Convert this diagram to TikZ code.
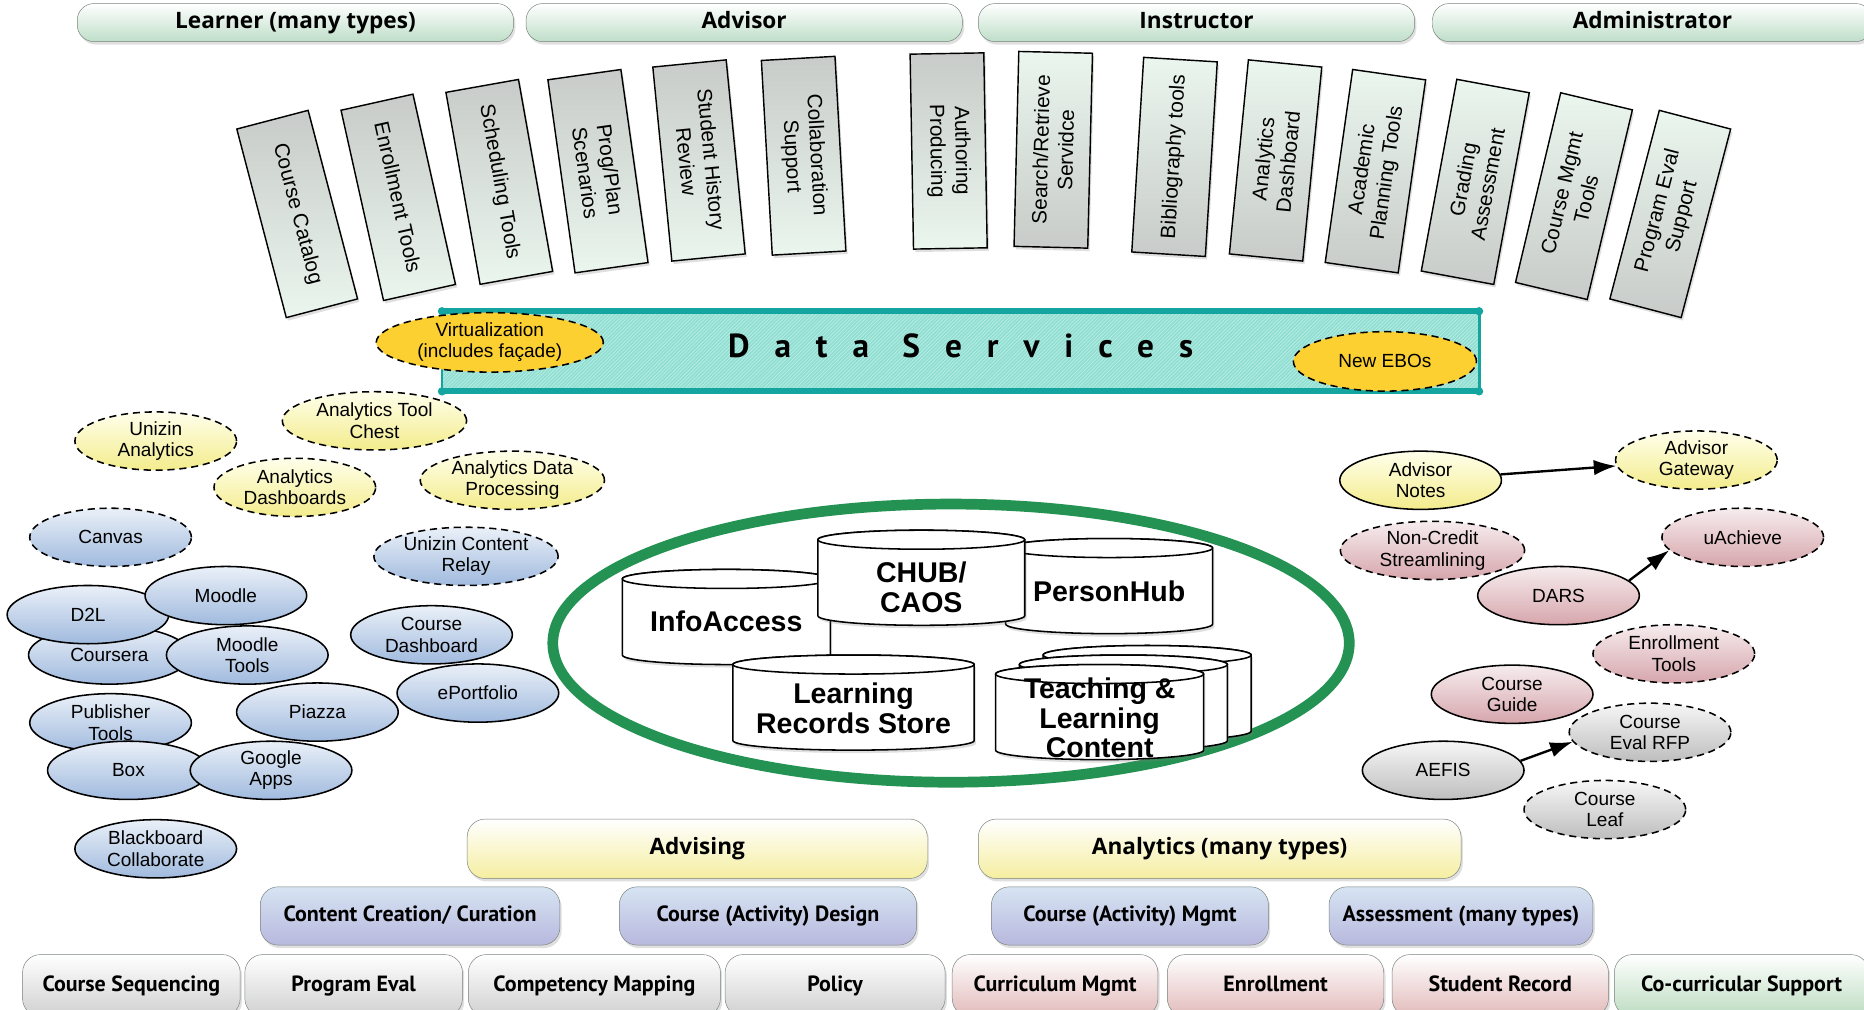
\documentclass[tikz,border=0pt]{standalone}
\usepackage{fontspec}
\setmainfont{Liberation Sans}
\newfontfamily\barfont{Open Sans}
\newfontfamily\rowfont{PT Sans}
\newfontfamily\dsfont[LetterSpace=75]{PT Sans}
\usetikzlibrary{
    shapes.geometric,
    arrows.meta,
    shadows,
    patterns
}
\definecolor{rolegreen}{RGB}{190,222,200}
\definecolor{barline}{RGB}{120,130,125}
\definecolor{toolgreen}{RGB}{234,246,238}
\definecolor{toolgray}{RGB}{200,203,201}
\definecolor{dsline}{RGB}{20,165,160}
\definecolor{dsfill}{RGB}{145,222,210}
\definecolor{dsstripe}{RGB}{195,240,232}
\definecolor{gold}{RGB}{252,208,48}
\definecolor{ylwtop}{RGB}{255,255,235}
\definecolor{ylwbot}{RGB}{243,236,140}
\definecolor{blutop}{RGB}{234,240,248}
\definecolor{blubot}{RGB}{160,186,222}
\definecolor{pnktop}{RGB}{246,236,238}
\definecolor{pnkbot}{RGB}{214,166,172}
\definecolor{grytop}{RGB}{246,246,246}
\definecolor{grybot}{RGB}{190,190,190}
\definecolor{coregreen}{RGB}{36,146,82}
\definecolor{lavtop}{RGB}{214,228,242}
\definecolor{lavbot}{RGB}{184,184,222}
\definecolor{rowgray}{RGB}{208,208,208}
\definecolor{rowpink}{RGB}{226,186,186}
\definecolor{rowgreen}{RGB}{188,220,192}
\definecolor{rowyellow}{RGB}{245,238,160}
\tikzset {
    soft shadow/.style = {
        drop shadow = {shadow xshift = 1.5pt, shadow yshift = -2.5pt, opacity = 0.25}
    },
    role bar/.style = {
        draw = barline, rounded corners = 14pt,
        top color = white, bottom color = rolegreen,
        minimum width = 367pt, minimum height = 32pt, inner sep = 0pt,
        text height = 14pt, text depth = 4pt,
        font = \barfont\bfseries\fontsize{19}{20}\selectfont,
        soft shadow
    },
    tool box/.style = {
        draw, line width = 1.2pt, align = center,
        minimum width = 164pt, minimum height = 62pt, inner sep = 0pt,
        font = \fontsize{17.5}{21}\selectfont,
        soft shadow
    },
    tool left/.style = {tool box, top color = toolgray, bottom color = toolgreen},
    tool right/.style = {tool box, top color = toolgreen, bottom color = toolgray},
    %
    data bar/.style = {
        minimum width = 872pt, minimum height = 67pt, inner sep = 0pt,
        text depth = 9pt,
        preaction = {fill = dsfill},
        pattern = north east lines, pattern color = dsstripe,
        font = \dsfont\bfseries\fontsize{28}{30}\selectfont
    },
    ds edge/.style = {draw = dsline},
    %
    oval/.style = {
        ellipse, draw, line width = 1.3pt, align = center,
        minimum width = 136pt, minimum height = 49pt, inner sep = -1pt,
        font = \fontsize{16}{18}\selectfont
    },
    wide oval/.style = {oval, minimum width = 155pt},
    planned/.style = {dash pattern = on 6pt off 4pt},
    gold oval/.style = {oval, planned, fill = gold, minimum height = 50pt},
    yellow oval/.style = {oval, top color = ylwtop, bottom color = ylwbot},
    blue oval/.style = {oval, top color = blutop, bottom color = blubot},
    pink oval/.style = {oval, top color = pnktop, bottom color = pnkbot},
    gray oval/.style = {oval, top color = grytop, bottom color = grybot},
    link/.style = {line width = 2pt, -{Latex[length = 19pt, width = 13pt]}},
    %
    core ring/.style = {
        ellipse, draw = coregreen, line width = 9pt,
        minimum width = 670pt, minimum height = 234pt
    },
    store line/.style = {draw, line width = 1.3pt, fill = white},
    store/.pic = {
        \filldraw [store line, soft shadow] (-#1, -32) -- (-#1, 32)
            arc [start angle = 180, end angle = 0, x radius = #1, y radius = 8]
            -- (#1, -32)
            arc [start angle = 0, end angle = -180, x radius = #1, y radius = 8]
            -- cycle;
        \draw [store line] (0, -32) ellipse [x radius = #1, y radius = 8];
    },
    store text/.style = {align = center, font = \bfseries\fontsize{24}{25}\selectfont},
    %
    layer box/.style = {
        draw = barline, rounded corners = 15pt, inner sep = 0pt,
        minimum height = 49pt, text height = 14pt, text depth = 4pt,
        font = \rowfont\bfseries\fontsize{18.5}{20}\selectfont,
        soft shadow
    },
    top layer/.style = {
        layer box, top color = white, bottom color = rowyellow, minimum height = 50pt,
        font = \barfont\bfseries\fontsize{19}{20}\selectfont
    },
    mid layer/.style = {layer box, top color = lavtop, bottom color = lavbot},
    base layer/.style = {layer box, top color = white, bottom color = #1, minimum height = 52pt}
}

\begin{document}
\begin{tikzpicture}[x = 1pt, y = -1pt]
    \fill [white] (0, 0) rectangle (1568, 849);
    \useasboundingbox (0, 0) rectangle (1568, 849);
    % roles
    \node (learner) [role bar] at (248.5, 19) {Learner (many types)};
    \node (advisor) [role bar] at (626, 19) {Advisor};
    \node (instructor) [role bar] at (1006.5, 19) {Instructor};
    \node (admin) [role bar, minimum width = 370pt] at (1390, 19) {Administrator};
    % tools
    \node (catalog) [tool left, rotate = -75.3] at (250, 180) {Course Catalog};
    \node (enroltools) [tool left, rotate = -77.4] at (335, 166) {Enrollment Tools};
    \node (sched) [tool left, rotate = -79.9] at (420, 153) {Scheduling Tools};
    \node (progplan) [tool left, rotate = -82] at (503, 144) {Prog/Plan\\Scenarios};
    \node (history) [tool left, rotate = -84.4] at (588, 135) {Student History\\Review};
    \node (collab) [tool left, rotate = -86.8] at (676, 131) {Collaboration\\Support};
    \node (authoring) [tool left, rotate = -89] at (798, 127) {Authoring\\Producing};
    \node (search) [tool right, rotate = 88.6] at (886, 126) {Search/Retrieve\\Servidce};
    \node (biblio) [tool right, rotate = 86.5] at (988, 132) {Bibliography tools};
    \node (andashtool) [tool right, rotate = 84.4] at (1073, 135) {Analytics\\Dashboard};
    \node (acplan) [tool right, rotate = 81.9] at (1157, 144) {Academic\\Planning Tools};
    \node (grading) [tool right, rotate = 79.5] at (1241, 153) {Grading\\Assessment};
    \node (crsmgmt) [tool right, rotate = 76.6] at (1324, 165) {Course Mgmt\\Tools};
    \node (progeval) [tool right, rotate = 75.3] at (1405, 180) {Program Eval\\Support};
    % data services
    \node (ds) [data bar] at (808, 295.5) {Data Services};
    \draw [ds edge, line width = 5pt] (ds.north west) -- (ds.north east);
    \draw [ds edge, line width = 5pt] (ds.south west) -- (ds.south east);
    \draw [ds edge, line width = 2.5pt] (ds.north west) -- (ds.south west);
    \draw [ds edge, line width = 2.5pt] (ds.north east) -- (ds.south east);
    \foreach \corner in {north west, north east, south west, south east}
        \fill [dsline] (ds.\corner) circle (3.5pt);
    \node (virt) [gold oval, minimum width = 191pt] at (412, 288) {Virtualization\\(includes façade)};
    \node (ebos) [gold oval, minimum width = 154pt] at (1165, 304) {New EBOs};
    % left cluster
    \node (unizinan) [yellow oval, planned] at (131, 371) {Unizin\\Analytics};
    \node (toolchest) [yellow oval, wide oval, planned] at (315, 354) {Analytics Tool\\Chest};
    \node (andash) [yellow oval, planned] at (248, 410) {Analytics\\Dashboards};
    \node (dataproc) [yellow oval, wide oval, planned] at (431, 404) {Analytics Data\\Processing};
    \node (canvas) [blue oval, planned] at (93, 452) {Canvas};
    \node (relay) [blue oval, wide oval, planned] at (392, 468) {Unizin Content\\Relay};
    \node (coursera) [blue oval] at (92, 551) {Coursera};
    \node (moodletools) [blue oval] at (208, 551) {Moodle\\Tools};
    \node (d2l) [blue oval] at (74, 517) {D2L};
    \node (moodle) [blue oval] at (190, 501) {Moodle};
    \node (crsdash) [blue oval] at (363, 534) {Course\\Dashboard};
    \node (eportfolio) [blue oval] at (402, 583) {ePortfolio};
    \node (piazza) [blue oval] at (267, 599) {Piazza};
    \node (publisher) [blue oval] at (93, 608) {Publisher\\Tools};
    \node (box) [blue oval] at (108, 648) {Box};
    \node (gapps) [blue oval] at (228, 648) {Google\\Apps};
    \node (bbcollab) [blue oval] at (131, 714) {Blackboard\\Collaborate};
    % core stores
    \node (core) [core ring] at (800, 541) {};
    \pic (infoaccess) at (611, 519) {store = 87.5};
    \pic (personhub) at (933, 493) {store = 87};
    \pic (chub) at (775, 486) {store = 87};
    \pic (lrs) at (718, 591) {store = 101.5};
    \pic (tlc3) at (965, 583) {store = 87.5};
    \pic (tlc2) at (945, 591) {store = 87.5};
    \pic (tlc) at (925, 599) {store = 87.5};
    \node (infoaccess text) [store text] at (611, 523) {InfoAccess};
    \node (personhub text) [store text] at (933, 497) {PersonHub};
    \node (chub text) [store text] at (775, 494) {CHUB/\\CAOS};
    \node (lrs text) [store text] at (718, 596) {Learning\\Records Store};
    \node (tlc text) [store text] at (925, 604) {Teaching \&\\Learning\\Content};
    % right cluster
    \node (advnotes) [yellow oval] at (1195, 404) {Advisor\\Notes};
    \node (advgate) [yellow oval, planned] at (1427, 387) {Advisor\\Gateway};
    \node (noncredit) [pink oval, wide oval, planned] at (1205, 463) {Non-Credit\\Streamlining};
    \node (uachieve) [pink oval, planned] at (1466, 452) {uAchieve};
    \node (dars) [pink oval] at (1311, 501) {DARS};
    \node (enrolltools) [pink oval, planned] at (1408, 550) {Enrollment\\Tools};
    \node (crsguide) [pink oval] at (1272, 584) {Course\\Guide};
    \node (evalrfp) [gray oval, planned] at (1388, 616) {Course\\Eval RFP};
    \node (aefis) [gray oval] at (1214, 648) {AEFIS};
    \node (crsleaf) [gray oval, planned] at (1350, 681) {Course\\Leaf};
    \draw [link] (advnotes) -- (advgate);
    \draw [link] (dars.12) -- (uachieve.190);
    \draw [link] (aefis.7) -- (evalrfp.187);
    % layers
    \node (advising) [top layer, minimum width = 387pt] at (586.5, 714) {Advising};
    \node (analytics) [top layer, minimum width = 406pt] at (1026, 714) {Analytics (many types)};
    \node (content) [mid layer, minimum width = 252pt] at (345, 770.5) {Content Creation/ Curation};
    \node (design) [mid layer, minimum width = 250pt] at (646, 770.5) {Course (Activity) Design};
    \node (actmgmt) [mid layer, minimum width = 233pt] at (950.5, 770.5) {Course (Activity) Mgmt};
    \node (assess) [mid layer, minimum width = 222pt] at (1229, 770.5) {Assessment (many types)};
    \node (sequencing) [base layer = rowgray, minimum width = 183pt] at (110.5, 829) {Course Sequencing};
    \node (evalprog) [base layer = rowgray, minimum width = 183pt] at (297.5, 829) {Program Eval};
    \node (competency) [base layer = rowgray, minimum width = 212pt] at (500, 829) {Competency Mapping};
    \node (policy) [base layer = rowgray, minimum width = 185pt] at (702.5, 829) {Policy};
    \node (curriculum) [base layer = rowpink, minimum width = 173pt] at (887.5, 829) {Curriculum Mgmt};
    \node (enrollment) [base layer = rowpink, minimum width = 182pt] at (1073, 829) {Enrollment};
    \node (record) [base layer = rowpink, minimum width = 182pt] at (1262, 829) {Student Record};
    \node (cocurr) [base layer = rowgreen, minimum width = 214pt] at (1465, 829) {Co-curricular Support};
\end{tikzpicture}
\end{document}
